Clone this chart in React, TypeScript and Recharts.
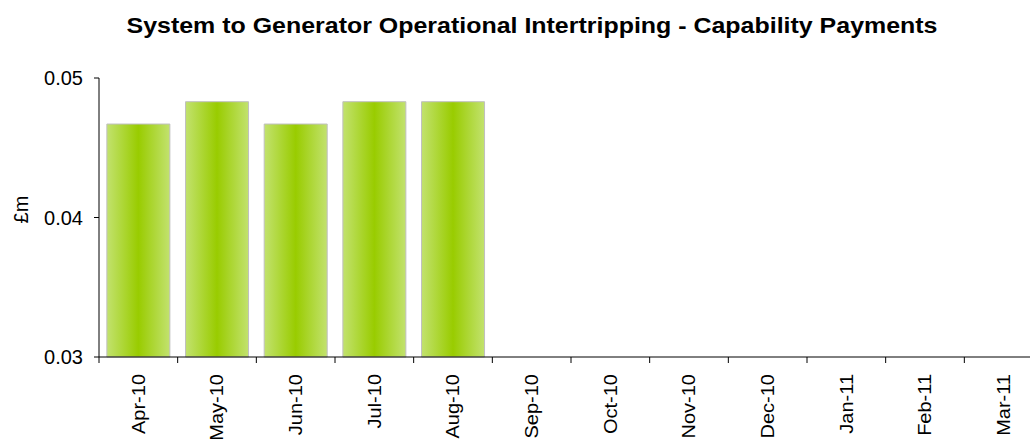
import React from 'react';
import { BarChart, Bar, XAxis, YAxis } from 'recharts';

const months = ['Apr-10', 'May-10', 'Jun-10', 'Jul-10', 'Aug-10', 'Sep-10', 'Oct-10', 'Nov-10', 'Dec-10', 'Jan-11', 'Feb-11', 'Mar-11'];
const payments: (number | null)[] = [0.0467, 0.0483, 0.0467, 0.0483, 0.0483, null, null, null, null, null, null, null];
const yTicks = [0.03, 0.04, 0.05];

const data = months.map((m, i) => ({ month: m, value: payments[i] }));

const FONT = '"Liberation Sans", Arial, sans-serif';

const XTick = (props: any) => {
  const { x, y, payload, index } = props;
  const half = payload && payload.offset ? payload.offset : 39;
  const last = index === months.length - 1;
  return (
    <g>
      <line x1={x - half} y1={y} x2={x - half} y2={y + 6} stroke="#000" strokeWidth={1} />
      {last && <line x1={x + half} y1={y} x2={x + half} y2={y + 6} stroke="#000" strokeWidth={1} />}
      <text
        x={0}
        y={0}
        transform={`translate(${x}, ${y + 17}) rotate(-90) scale(1.0, 0.9)`}
        textAnchor="end"
        dy="0.35em"
        fontSize={20}
        fontFamily={FONT}
        fill="#000"
      >
        {payload.value}
      </text>
    </g>
  );
};

export default function App() {
  return (
    <div style={{ position: 'absolute', left: 0, top: 0, width: 1030, height: 443, overflow: 'hidden', background: '#fff' }}>
      <div
        style={{
          position: 'absolute',
          left: 0,
          top: 15,
          width: 1064,
          textAlign: 'center',
          fontFamily: FONT,
          fontWeight: 'bold',
          fontSize: 22,
          lineHeight: '22px',
          color: '#000',
          transform: 'scaleX(1.134)',
          transformOrigin: '532px 0px',
          whiteSpace: 'nowrap',
        }}
      >
        System to Generator Operational Intertripping - Capability Payments
      </div>
      <BarChart
        width={1060}
        height={443}
        data={data}
        margin={{ top: 78, right: 17, bottom: 0, left: 0 }}
        barCategoryGap="10%"
      >
        <defs>
          <linearGradient id="barGrad" x1="0" y1="0" x2="1" y2="0">
            <stop offset="0%" stopColor="#c2e26e" />
            <stop offset="50%" stopColor="#99cc00" />
            <stop offset="100%" stopColor="#c2e26e" />
          </linearGradient>
        </defs>
        <XAxis
          dataKey="month"
          height={86}
          interval={0}
          tickLine={false}
          tickSize={0}
          tickMargin={0}
          axisLine={{ stroke: '#000', strokeWidth: 1 }}
          tick={<XTick />}
        />
        <YAxis
          width={99}
          domain={[0.03, 0.05]}
          ticks={yTicks}
          interval={0}
          tickFormatter={(v: number) => v.toFixed(2)}
          tickSize={5}
          tickMargin={11}
          axisLine={{ stroke: '#000', strokeWidth: 1 }}
          tickLine={{ stroke: '#000', strokeWidth: 1 }}
          tick={{ fontSize: 20, fontFamily: FONT, fill: '#000' }}
          label={{
            content: (p: any) => {
              const vb = p.viewBox || { x: 0, y: 78, width: 99, height: 280 };
              const cx = 21;
              const cy = vb.y + vb.height / 2 - 8;
              return (
                <text
                  x={cx}
                  y={cy}
                  transform={`rotate(-90, ${cx}, ${cy})`}
                  textAnchor="middle"
                  dy="0.35em"
                  fontSize={20}
                  fontFamily={FONT}
                  fill="#000"
                >
                  £m
                </text>
              );
            },
          }}
        />
        <Bar dataKey="value" fill="url(#barGrad)" stroke="#bfbfbf" strokeWidth={1} isAnimationActive={false} />
      </BarChart>
    </div>
  );
}
